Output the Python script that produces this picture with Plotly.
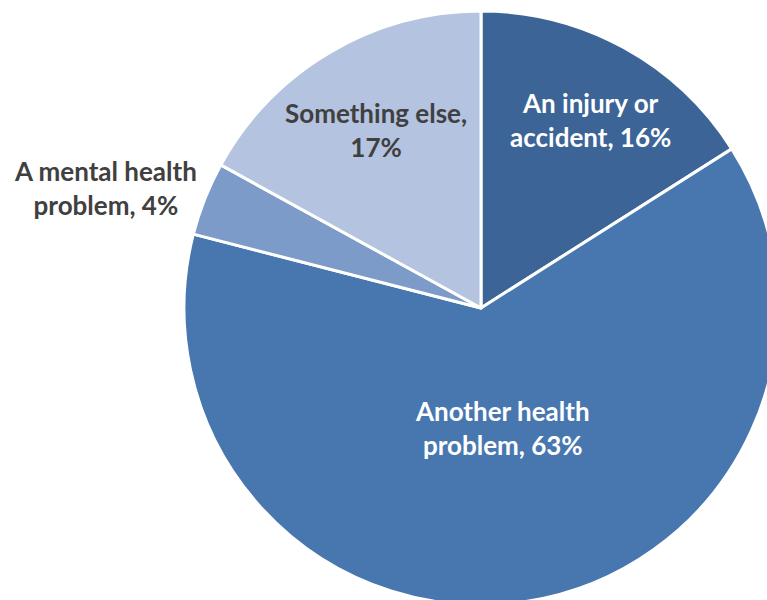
import plotly.graph_objects as go

# Reasons, in clockwise order from 12 o'clock
categories = ["An injury or accident", "Another health problem",
              "A mental health problem", "Something else"]
shares = [16, 63, 4, 17]
label_lines = [("An injury or", "accident"), ("Another health", "problem"),
               ("A mental health", "problem"), ("Something else", "")]

slice_colors = ["#3C6496", "#4877B0", "#7D9BC9", "#B4C3DF"]
text_colors = ["#FFFFFF", "#FFFFFF", "#404040", "#404040"]
# label centres in pixels (x, y from top)
label_px = [(590, 120), (502, 428), (105, 188), (376, 130)]

W, H = 962, 616
fig = go.Figure(go.Pie(
    labels=categories,
    values=shares,
    sort=False,
    direction="clockwise",
    rotation=0,
    marker=dict(colors=slice_colors, line=dict(color="white", width=3)),
    textinfo="none",
    hoverinfo="label+percent",
    showlegend=False,
    domain=dict(x=[0, 1], y=[11 / H, 605 / H]),
))

for (l1, l2), v, c, (px, py) in zip(label_lines, shares, text_colors, label_px):
    txt = f"{l1},<br>{v}%" if not l2 else f"{l1}<br>{l2}, {v}%"
    fig.add_annotation(
        x=px / W, y=1 - py / H, xref="paper", yref="paper",
        xanchor="center", yanchor="middle",
        text=f"<b>{txt}</b>", showarrow=False, align="center",
        font=dict(family="Lato", size=26, color=c),
    )

fig.update_layout(
    width=W, height=H,
    margin=dict(l=0, r=0, t=0, b=0),
    paper_bgcolor="white", plot_bgcolor="white",
)

fig.write_html(
    "out.html",
    post_script="document.body.style.margin='0';document.body.style.overflow='hidden';"
                "document.documentElement.style.overflow='hidden';",
)
